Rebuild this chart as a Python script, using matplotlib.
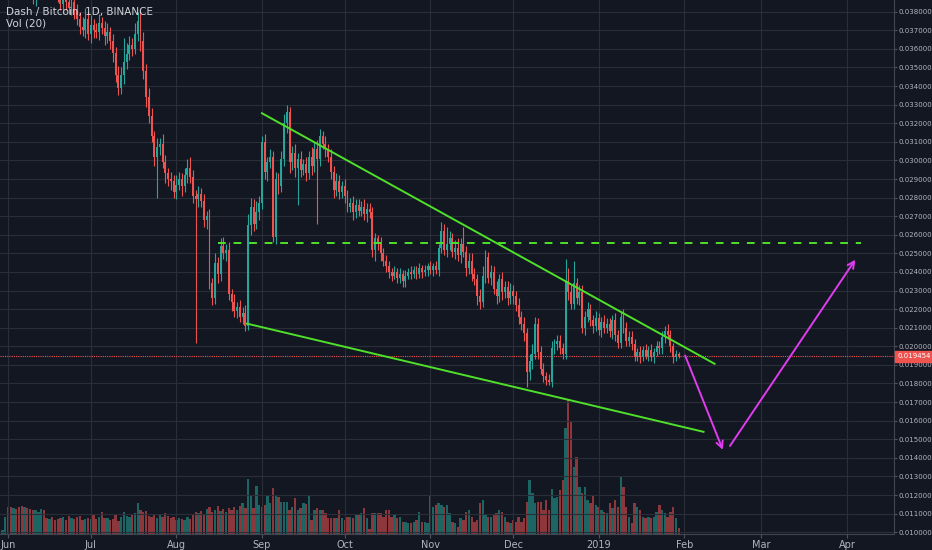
import matplotlib
matplotlib.use("Agg")
from matplotlib import pyplot as plt
import matplotlib.dates as mdates
import numpy as np
import pandas as pd

# daily closes, mBTC (0.001 BTC), starting 2018-05-30
closes = [
    40.5, 40.9, 41.3, 40.7, 41.0, 40.3, 40.0, 39.5, 40.1, 39.7,
    39.2, 38.8, 39.4, 39.9, 40.4, 40.0, 39.5, 40.2, 39.7, 39.2,
    38.9, 38.4, 38.7, 38.5, 38.2, 38.5, 38.1, 37.6, 37.2, 37.0,
    37.6, 36.8, 37.3, 37.0, 36.9, 37.4, 37.1, 36.7, 36.9, 36.4,
    35.8, 34.6, 33.9, 34.6, 35.3, 35.7, 36.2, 36.0, 36.8, 37.5,
    36.4, 34.8, 33.4, 32.4, 31.3, 30.2, 30.7, 30.9, 29.9, 29.3,
    29.0, 28.9, 28.3, 28.7, 29.0, 28.6, 29.2, 29.6, 29.1, 28.1,
    27.9, 28.2, 27.8, 26.8, 27.0, 23.4, 22.6, 24.5, 23.9, 25.4,
    25.0, 25.2, 22.8, 22.4, 21.9, 22.1, 21.6, 21.8, 21.1, 26.5,
    27.5, 26.6, 27.2, 27.7, 31.0, 29.4, 29.9, 30.2, 25.9, 29.0,
    28.6, 30.1, 32.0, 32.6, 29.9, 30.4, 29.6, 30.1, 29.5, 29.8,
    29.3, 30.2, 29.7, 30.6, 30.1, 31.3, 30.9, 30.6, 30.2, 29.4,
    28.4, 28.9, 28.3, 28.6, 28.1, 27.5, 27.7, 27.2, 27.6, 27.3,
    27.5, 27.1, 27.4, 27.2, 25.2, 25.8, 25.5, 25.0, 24.6, 24.3,
    24.0, 23.8, 24.0, 23.7, 23.9, 23.5, 23.8, 24.0, 23.9, 24.1,
    23.9, 24.2, 24.0, 24.1, 24.3, 24.1, 24.3, 24.1, 25.3, 26.2,
    25.2, 25.5, 25.8, 25.1, 25.3, 24.9, 25.5, 25.1, 24.2, 24.6,
    23.9, 23.6, 22.7, 22.4, 23.8, 24.8, 23.7, 24.0, 23.1, 22.7,
    23.6, 22.9, 23.2, 22.6, 23.0, 22.7, 22.2, 21.6, 21.2, 20.7,
    18.6, 19.2, 19.6, 21.2, 19.7, 18.8, 18.4, 18.2, 18.1, 19.9,
    20.1, 20.3, 19.9, 19.6, 23.5, 22.9, 22.3, 23.4, 22.6, 22.9,
    21.0, 21.6, 22.0, 21.4, 21.1, 21.5, 20.9, 21.3, 21.0, 21.2,
    20.8, 21.4, 20.6, 20.2, 21.6, 21.0, 20.3, 20.5, 20.1, 19.5,
    19.7, 19.4, 19.8, 19.5, 19.8, 19.4, 19.7, 20.0, 19.9, 20.5,
    20.8, 20.6, 20.0, 19.4, 19.6, 19.454,
]
first_open = 40.2

# wick length above / below the body, mBTC
wick_hi = [
    .4, .5, .3, .4, .5, .3, .4, .5, .3, .4,
    .5, .3, .4, .4, .3, .5, .4, .3, .4, .5,
    .3, .4, .4, .3, .5, .3, .4, .3, .4, .5,
    .6, .4, .5, .3, .4, .5, .3, .4, .5, .3,
    .4, .3, .5, .4, 1.3, .6, .5, .4, .6, .5,
    .6, .5, .4, .5, .4, .3, .5, .3, .5, .4,
    .3, .4, .3, .5, .4, .3, .4, .5, .6, .4,
    .3, .4, .3, .4, .3, .4, .3, .5, .3, .4,
    .5, .3, .4, .3, .4, .3, .4, .3, .4, .6,
    .5, .4, .6, .4, .3, .4, .3, .4, .3, .4,
    .3, .4, .5, .4, .3, .4, .5, .3, .4, .3,
    .4, .3, .5, .4, .5, .4, .3, .4, .3, .4,
    .3, .4, .3, .3, .4, .3, .3, .4, .3, .3,
    .3, .4, .3, .3, .3, .3, .2, .4, .3, .3,
    .3, .2, .3, .2, .3, .2, .3, .2, .3, .2,
    .2, .3, .2, .3, .2, .3, .2, .3, .2, .5,
    .4, .9, .4, .3, .4, .5, .3, .9, .3, .4,
    .4, .3, .3, .4, .5, .4, .3, .4, .3, .4,
    .3, .4, .3, .3, .4, .3, .3, .4, .3, .4,
    .3, .4, .5, .4, .3, .3, .3, .2, .3, .4,
    .3, .3, .3, .3, 1.2, .7, .4, 1.2, .3, .4,
    .4, .3, .4, .3, .3, .4, .3, .3, .4, .3,
    .3, .3, .4, .3, .3, .4, .3, .3, .3, .3,
    .2, .3, .2, .3, .2, .3, .2, .3, .3, .3,
    .3, .4, .3, .2, .2, .1,
]
wick_lo = [
    .4, .3, .5, .4, .3, .5, .4, .3, .4, .5,
    .3, .4, .5, .3, .4, .3, .5, .4, .3, .4,
    .4, .3, .5, .4, .3, .4, .5, .3, .4, .3,
    .4, .3, .5, .4, .3, .4, .3, .5, .4, .4,
    .5, .4, .4, .3, .5, .4, .3, .4, .3, .4,
    .5, .4, .5, .4, .3, .5, 2.2, .4, .3, .5,
    .4, .5, .3, .4, .3, .5, .3, .4, .3, .4,
    7.7, .4, .3, .4, .5, .3, .4, .3, .5, .4,
    .3, .4, .3, .5, .3, .4, .3, .4, .3, .2,
    .5, .4, .3, .4, .3, .4, .5, .3, .3, .4,
    .4, .3, .4, .5, .6, .4, .5, 2.0, .4, .3,
    .4, .3, .5, .3, 3.5, .4, .3, .4, .3, .4,
    .4, .3, .4, .3, .4, .3, .3, .4, .3, .3,
    .3, .3, .4, .3, .4, .6, .3, .4, .3, .3,
    .3, .3, .2, .3, .3, .3, .3, .2, .3, .2,
    .3, .2, .3, .2, .3, .2, .3, .2, .3, .3,
    .3, .4, .3, .3, .4, .3, .4, .3, .4, .3,
    .4, .3, .5, .4, .3, .4, .3, .4, .3, .4,
    .3, .4, .3, .4, .3, .4, .3, .4, .3, .4,
    .8, .4, .4, .3, .4, .3, .3, .3, .2, .3,
    .3, .3, .3, .3, .3, .4, .3, .3, .3, .4,
    .3, .4, .3, .3, .4, .3, .3, .4, .3, .3,
    .3, .4, .3, .3, .3, .3, .3, .3, .3, .3,
    .3, .3, .2, .2, .3, .2, .3, .2, .3, .3,
    .3, .2, .3, .3, .2, .1,
]

# volume (relative units)
volume = [
    4, 17, 27, 27, 26, 25, 27, 28, 27, 26,
    25, 24, 24, 22, 25, 24, 16, 15, 17, 14,
    15, 16, 17, 14, 18, 16, 15, 17, 18, 14,
    15, 16, 15, 20, 15, 17, 22, 16, 16, 14,
    15, 20, 13, 17, 22, 18, 17, 19, 21, 31,
    24, 22, 23, 18, 17, 20, 16, 19, 17, 21,
    18, 16, 17, 14, 16, 15, 14, 17, 15, 20,
    22, 21, 23, 20, 25, 27, 22, 24, 28, 23,
    25, 22, 26, 24, 27, 24, 28, 31, 26, 55,
    39, 26, 48, 29, 27, 29, 39, 31, 46, 38,
    37, 32, 32, 32, 24, 27, 36, 24, 26, 31,
    30, 39, 14, 24, 26, 24, 24, 21, 16, 16,
    16, 16, 24, 16, 14, 17, 17, 16, 20, 20,
    21, 26, 16, 5, 21, 21, 21, 21, 17, 24,
    24, 17, 20, 16, 17, 12, 12, 11, 11, 12,
    14, 22, 12, 12, 11, 38, 27, 29, 31, 29,
    27, 29, 21, 12, 11, 7, 16, 14, 22, 24,
    17, 12, 14, 31, 34, 19, 17, 17, 19, 21,
    24, 22, 17, 12, 11, 14, 12, 17, 12, 16,
    32, 54, 41, 31, 32, 32, 24, 34, 24, 45,
    36, 37, 44, 54, 106, 134, 112, 67, 77, 47,
    41, 47, 34, 31, 39, 29, 27, 24, 22, 21,
    31, 26, 34, 27, 58, 47, 27, 17, 11, 31,
    27, 24, 17, 16, 17, 16, 17, 22, 29, 24,
    21, 17, 22, 27, 16, 6,
]

last_price = 0.019454
price_ticks = [0.010 + 0.001 * i for i in range(29)]
month_ticks = ['2018-06-01', '2018-07-01', '2018-08-01', '2018-09-01', '2018-10-01',
               '2018-11-01', '2018-12-01', '2019-01-01', '2019-02-01', '2019-03-01',
               '2019-04-01']
month_labels = ['Jun', 'Jul', 'Aug', 'Sep', 'Oct', 'Nov', 'Dec', '2019', 'Feb', 'Mar', 'Apr']

# drawings on the chart
upper_line = (['2018-09-01', '2019-02-12'], [0.03254, 0.01906])
lower_line = (['2018-08-26 14:00', '2019-02-08'], [0.02122, 0.01540])
resistance = (['2018-08-16', '2019-04-06'], 0.02557)
path_down = (['2019-02-01 08:00', '2019-02-15'], [0.01950, 0.01443])
path_up = (['2019-02-17 14:00', '2019-04-04'], [0.01464, 0.02466])

BG = '#131722'
GRID = '#2a2e39'
TXT = '#b2b5be'
UP = '#26a69a'
DN = '#ef5350'
GREEN = '#4fe02a'
MAGENTA = '#e03cf0'

c = np.array(closes) / 1000
o = np.concatenate([[first_open / 1000], c[:-1]])
hi = np.maximum(o, c) + np.array(wick_hi) / 1000
lo = np.minimum(o, c) - np.array(wick_lo) / 1000
dates = pd.date_range('2018-05-30', periods=len(c), freq='D')
x = mdates.date2num(dates)
up = c >= o
cols = np.where(up, UP, DN)

fig = plt.figure(figsize=(9.32, 5.5), dpi=100, facecolor=BG)
ax = fig.add_axes([0, 0.029, 0.9592, 0.971])
ax.set_facecolor(BG)
vax = ax.twinx()

x0 = mdates.datestr2num('2018-06-01')
ax.set_xlim(x0 - 2.9, x0 + 321)
ax.set_ylim(0.00990, 0.03863)

ax.set_yticks(price_ticks)
ax.set_xticks(mdates.datestr2num(month_ticks))
ax.set_xticklabels(month_labels)
ax.grid(True, color=GRID, lw=0.8)
ax.set_axisbelow(True)

# volume overlay, drawn behind candles
vax.set_ylim(0, 534)
vax.bar(x, volume, width=0.85, color=cols, alpha=0.55, zorder=1)
vax.set_yticks([])
ax.set_zorder(vax.get_zorder() + 1)
ax.patch.set_visible(False)
vax.set_facecolor(BG)
vax.patch.set_visible(True)
for s in vax.spines.values():
    s.set_visible(False)

# candles
ax.vlines(x, lo, hi, colors=cols, lw=0.8, zorder=3)
body = np.maximum(np.abs(c - o), 0.00004)
ax.bar(x, body, bottom=np.minimum(o, c), width=0.7, color=cols, zorder=4)

# trend lines
ax.plot(mdates.datestr2num(upper_line[0]), upper_line[1], color=GREEN, lw=1.4, zorder=5)
ax.plot(mdates.datestr2num(lower_line[0]), lower_line[1], color=GREEN, lw=1.4, zorder=5)
ax.hlines(resistance[1], *mdates.datestr2num(resistance[0]), colors=GREEN, lw=1.4,
          linestyles=(0, (4, 4)), zorder=5)
for seg in (path_down, path_up):
    xs = mdates.datestr2num(seg[0])
    ax.annotate('', xy=(xs[1], seg[1][1]), xytext=(xs[0], seg[1][0]),
                arrowprops=dict(arrowstyle='->', color=MAGENTA, lw=1.4,
                                mutation_scale=12, shrinkA=0, shrinkB=0), zorder=6)

# last price line and label
ax.axhline(last_price, color=DN, lw=0.8, ls=(0, (1, 1)), zorder=2)
ax.annotate('%.6f' % last_price, xy=(1.0, last_price), xycoords=('axes fraction', 'data'),
            xytext=(2.2, 0), textcoords='offset points', va='center', ha='left',
            fontsize=5.0, color='white',
            bbox=dict(boxstyle='square,pad=0.3', fc=DN, ec=DN), annotation_clip=False)

ax.yaxis.tick_right()
ax.yaxis.set_major_formatter(matplotlib.ticker.FuncFormatter(lambda v, p: '%.6f' % v))
ax.tick_params(axis='y', colors=TXT, labelsize=5.0, length=2, pad=1.5, color='#50535e')
ax.tick_params(axis='x', colors=TXT, labelsize=7, length=3, pad=1, color='#50535e')
for side in ('top', 'left'):
    ax.spines[side].set_visible(False)
ax.spines['right'].set_color('#434651')
ax.spines['bottom'].set_color('#434651')

fig.text(0.006, 0.978, 'Dash / Bitcoin, 1D, BINANCE', color='#d1d4dc', fontsize=7.5,
         va='center', ha='left')
fig.text(0.006, 0.958, 'Vol (20)', color='#d1d4dc', fontsize=7.5, va='center', ha='left')

fig.savefig('out.png', dpi=100, facecolor=BG)
